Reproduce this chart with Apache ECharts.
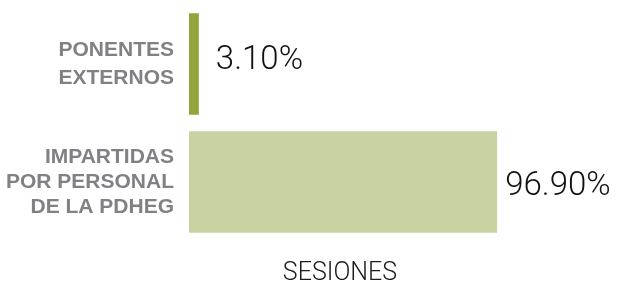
<!DOCTYPE html>
<html>
<head>
<meta charset="utf-8">
<script src="https://cdn.jsdelivr.net/npm/echarts@6/dist/echarts.min.js"></script>
<style>
  html, body { margin: 0; padding: 0; background: #fff; }
  #chart { width: 619px; height: 286px; }
</style>
</head>
<body>
<div id="chart"></div>
<script>
// datos
var categories = ['PONENTES\nEXTERNOS', 'IMPARTIDAS\nPOR PERSONAL\nDE LA PDHEG'];
var values = [3.10, 96.90];
var axisName = 'SESIONES';

// estilos por barra
var barColors = ['#95a53d', '#c9d3a2'];
var labelTweaks = [
  { distance: 17, offset: [0, -3] },
  { distance: 8, offset: [0, 5] }
];

var chart = echarts.init(document.getElementById('chart'), null, { renderer: 'canvas' });

var seriesData = values.map(function (v, i) {
  return {
    value: v,
    itemStyle: { color: barColors[i] },
    label: labelTweaks[i]
  };
});

var option = {
  animation: false,
  grid: {
    left: 189,
    right: 112,
    top: 5,
    bottom: 45,
    containLabel: false,
    outerBoundsMode: 'none'
  },
  xAxis: {
    type: 'value',
    min: 0,
    max: 100,
    name: axisName,
    nameLocation: 'middle',
    nameGap: 20,
    nameTextStyle: {
      fontFamily: 'Roboto',
      fontWeight: 300,
      fontSize: 25,
      color: '#1a1a1a',
      padding: [0, 16, 0, 0]
    },
    axisLine: { show: false },
    axisTick: { show: false },
    axisLabel: { show: false },
    splitLine: { show: false }
  },
  yAxis: {
    type: 'category',
    inverse: true,
    data: categories,
    axisLine: { show: false },
    axisTick: { show: false },
    axisLabel: {
      margin: 15,
      align: 'right',
      formatter: function (val, idx) {
        return idx === 0 ? '{a|' + val + '}' : '{b|' + val + '}';
      },
      rich: {
        a: {
          fontFamily: 'Liberation Sans',
          fontWeight: 'bold',
          fontSize: 21,
          lineHeight: 28,
          color: '#808184',
          align: 'right'
        },
        b: {
          fontFamily: 'Liberation Sans',
          fontWeight: 'bold',
          fontSize: 21,
          lineHeight: 25,
          color: '#808184',
          align: 'right'
        }
      }
    }
  },
  series: [
    {
      type: 'bar',
      data: seriesData,
      barCategoryGap: '14%',
      label: {
        show: true,
        position: 'right',
        fontFamily: 'Roboto',
        fontWeight: 300,
        fontSize: 33,
        color: '#111',
        formatter: function (p) {
          return p.value.toFixed(2) + '%';
        }
      }
    }
  ]
};

chart.setOption(option);
</script>
</body>
</html>
